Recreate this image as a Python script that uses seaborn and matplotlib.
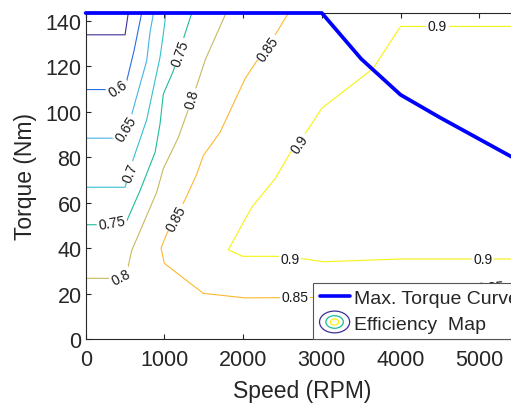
import matplotlib
matplotlib.use("Agg")
import matplotlib.pyplot as plt
import seaborn as sns
from matplotlib.patches import Ellipse
from matplotlib.legend_handler import HandlerBase
from matplotlib.lines import Line2D

# ---- maximum torque envelope (speed in RPM, torque in Nm) ----
max_speed = [0, 1000, 2000, 3000, 3500, 4000, 4500, 5000, 5500]
max_torque = [143.5, 143.5, 143.5, 143.5, 123.3, 107.5, 97.5, 88.0, 78.5]

# ---- efficiency iso-lines ----
eff_055_speed = [0, 500, 541]
eff_055_torque = [133.9, 133.9, 143.5]

eff_060_speed = [0, 500, 521, 614, 711]
eff_060_torque = [109.8, 109.8, 113.6, 126.9, 143.5]

eff_065_speed = [0, 500, 597, 775, 817, 862]
eff_065_torque = [88.4, 88.4, 100.4, 122.5, 135.0, 143.5]

eff_070_speed = [0, 500, 605, 775, 944, 986, 1020]
eff_070_torque = [66.8, 66.8, 79.3, 96.5, 124.0, 134.2, 143.5]

eff_075_speed = [0, 500, 542, 690, 882, 944, 986, 1113, 1262, 1347]
eff_075_torque = [50.3, 50.3, 53.6, 65.3, 82.2, 94.6, 107.8, 118.0, 134.4, 143.5]

eff_080_speed = [0, 500, 542, 584, 902, 986, 1177, 1283, 1431, 1520, 1783]
eff_080_torque = [26.7, 26.7, 32.3, 38.9, 64.6, 75.0, 88.7, 99.0, 113.6, 123.0, 143.5]

eff_085_speed = [2575, 2427, 2164, 2024, 1707, 1494, 1410, 1262, 1029, 957, 999,
                 1494, 2024, 3000, 4000, 5000, 5500]
eff_085_torque = [143.5, 135.0, 121.9, 114.5, 91.0, 80.7, 72.5, 61.3, 46.3, 40.0, 33.3,
                  20.1, 18.1, 18.3, 19.5, 22.5, 24.0]

eff_090_speed = [5500, 4000, 3650, 3000, 2830, 2600, 2405, 2110, 1812, 1995, 2427,
                 2787, 3020, 3994, 5500]
eff_090_torque = [137.6, 137.6, 119.0, 101.6, 92.5, 82.0, 70.5, 58.0, 39.3, 36.4, 36.4,
                  35.2, 34.0, 35.2, 35.2]

levels = [0.55, 0.6, 0.65, 0.7, 0.75, 0.8, 0.85, 0.9]
level_colors = ["#3e2f96", "#2a6fe0", "#45b3e3", "#35c0cf", "#1dbd98",
                "#c8b960", "#fcb830", "#f6f312"]
iso_lines = {
    0.55: (eff_055_speed, eff_055_torque),
    0.6: (eff_060_speed, eff_060_torque),
    0.65: (eff_065_speed, eff_065_torque),
    0.7: (eff_070_speed, eff_070_torque),
    0.75: (eff_075_speed, eff_075_torque),
    0.8: (eff_080_speed, eff_080_torque),
    0.85: (eff_085_speed, eff_085_torque),
    0.9: (eff_090_speed, eff_090_torque),
}

# inline level labels: value, speed, torque, angle
label_value = [0.6, 0.65, 0.7, 0.75, 0.75, 0.8, 0.8,
               0.85, 0.85, 0.85, 0.85, 0.9, 0.9, 0.9, 0.9]
label_speed = [414, 510, 563, 1198, 330, 1347, 446,
               2310, 1156, 2660, 5150, 4470, 2723, 2596, 5050]
label_torque = [110.5, 92.7, 73.4, 126.0, 51.4, 105.6, 27.5,
                128.0, 53.3, 18.5, 23.0, 137.6, 85.9, 35.2, 35.2]
label_angle = [35, 58, 68, 70, 10, 75, 28,
               55, 62, 0, 4, 0, 55, 0, 0]

sns.set_style("ticks")
plt.rcParams["font.family"] = ["Liberation Sans", "DejaVu Sans"]

fig = plt.figure(figsize=(5.11, 4.06), dpi=100)
ax = fig.add_axes([85.7 / 511, 66 / 406, 432.9 / 511, 326 / 406])

for lev, col in zip(levels, level_colors):
    spd, trq = iso_lines[lev]
    sns.lineplot(x=spd, y=trq, sort=False, estimator=None, color=col,
                 lw=0.8, ax=ax, legend=False, zorder=2)

for val, s, t, a in zip(label_value, label_speed, label_torque, label_angle):
    ax.text(s, t, f"{val:g}", rotation=a, rotation_mode="anchor",
            ha="center", va="center", fontsize=10, color="#1a1a1a", zorder=3,
            bbox=dict(fc="white", ec="none", pad=1.2))

sns.lineplot(x=max_speed, y=max_torque, sort=False, estimator=None,
             color="#0000ff", lw=2.7, ax=ax, legend=False, zorder=4)
for ln in ax.lines[-1:]:
    ln.set_clip_on(False)

ax.set_xlim(0, 5500)
ax.set_ylim(0, 143.5)
ax.set_xticks([0, 1000, 2000, 3000, 4000, 5000])
ax.set_yticks([0, 20, 40, 60, 80, 100, 120, 140])
ax.tick_params(direction="in", length=3.6, width=0.8, top=True, right=True,
               labelsize=15.5, colors="#262626")
ax.tick_params(axis="x", pad=7)
ax.tick_params(axis="y", pad=3)
for sp in ax.spines.values():
    sp.set_color("#262626")
    sp.set_linewidth(0.8)

ax.set_xlabel("Speed (RPM)", fontsize=16.5, color="#262626", va="center")
ax.set_ylabel("Torque (Nm)", fontsize=16.5, color="#262626", va="center")
ax.xaxis.set_label_coords(0.5, -0.157)
ax.yaxis.set_label_coords(-0.14, 0.5)


class ContourIcon(HandlerBase):
    def create_artists(self, legend, orig_handle, xdescent, ydescent,
                       width, height, fontsize, trans):
        cx = width / 2 - xdescent
        cy = height / 2 - ydescent
        arts = []
        for scale, col in zip([1.0, 0.58, 0.28], [level_colors[0], level_colors[4], level_colors[7]]):
            arts.append(Ellipse((cx, cy), width * scale, height * 1.6 * scale,
                                fill=False, edgecolor=col, lw=0.9, transform=trans))
        return arts


torque_handle = Line2D([], [], color="#0000ff", lw=2.6)
map_handle = object()
leg = fig.legend([torque_handle, map_handle], ["Max. Torque Curve", "Efficiency  Map"],
                 handler_map={map_handle: ContourIcon()},
                 loc="lower left", bbox_to_anchor=(313.3 / 511, 66 / 406),
                 borderaxespad=0, fontsize=14, frameon=True, fancybox=False,
                 framealpha=1, edgecolor="#555555", handlelength=1.55,
                 handletextpad=0.2, borderpad=0.32, labelspacing=0.42)
leg.get_frame().set_linewidth(0.8)
leg.set_zorder(10)

fig.savefig("out.png", dpi=100)
